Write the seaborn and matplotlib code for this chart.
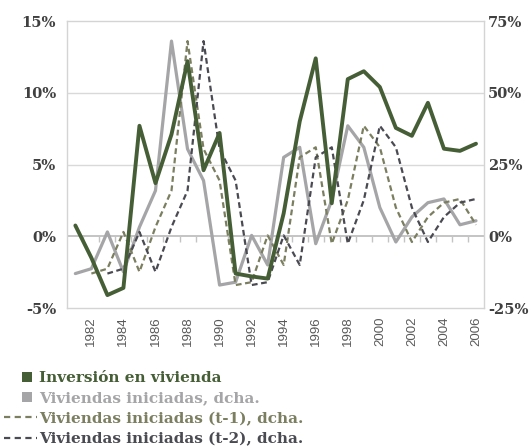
import numpy as np
import pandas as pd
import matplotlib
matplotlib.use("Agg")
import matplotlib.pyplot as plt
from matplotlib.lines import Line2D
from matplotlib.path import Path
import seaborn as sns

nan = np.nan

# Años (categorías del eje X)
years = list(range(1981, 2007))
year_labels = [str(y) if y % 2 == 0 else "" for y in years]

# Inversión en vivienda, % (eje izquierdo)
inversion = [0.75, -1.5, -4.1, -3.6, 7.7, 3.7, 7.1, 12.2, 4.6, 7.2, -2.6, -2.8, -2.95,
             1.6, 8.0, 12.4, 2.3, 10.95, 11.5, 10.4, 7.55, 7.0, 9.3, 6.1, 5.95, 6.45]

# Viviendas iniciadas, % (eje derecho)
viviendas = [-13, -11.3, 1.5, -12.4, 3.2, 15.9, 68, 30.4, 19.4, -17, -16, 0.3, -10,
             27.5, 31, -2.6, 12.6, 38.5, 31, 10, -2, 6.7, 11.7, 13, 4, 5.4]
viviendas_t1 = [nan, -13, -11.3, 1.5, -12.4, 3.2, 15.9, 68, 30.4, 19.4, -17, -16, 0.3,
                -10, 27.5, 31, -2.6, 12.6, 38.5, 31, 10, -2, 6.7, 11.7, 13, 4]
viviendas_t2 = [nan, nan, -13, -11.3, 1.5, -12.4, 3.2, 15.9, 68, 30.4, 19.4, -17, -16,
                0.3, -10, 27.5, 31, -2.6, 12.6, 38.5, 31, 10, -2, 6.7, 11.7, 13]

left_ticks = [-5, 0, 5, 10, 15]
right_ticks = [-25, 0, 25, 50, 75]

labels = ["Inversión en vivienda", "Viviendas iniciadas, dcha.",
          "Viviendas iniciadas (t-1), dcha.", "Viviendas iniciadas (t-2), dcha."]
colors = ["#465e36", "#a5a5a8", "#7c7e60", "#4a4a52"]

sns.set_style("white")
plt.rcParams["font.family"] = ["DejaVu Serif"]

df = pd.DataFrame({"pos": np.arange(len(years)), "inv": inversion, "viv": viviendas,
                   "t1": viviendas_t1, "t2": viviendas_t2})

fig = plt.figure(figsize=(5.31, 4.48), dpi=100)
ax = fig.add_axes([0.1268, 0.3125, 0.9115 - 0.1268, 0.9531 - 0.3125])
ax2 = ax.twinx()
ax.set_zorder(2)
ax2.set_zorder(1)
ax.patch.set_visible(False)

# cuadrícula y línea de cero en el eje derecho (detrás)
for v in [25, 50]:
    ax2.axhline(v, color="#d9d9d9", lw=1.0, zorder=0)
ax2.axhline(0, color="#c4c4c4", lw=1.4, zorder=0.5)
ax2.vlines(df["pos"].values[:-1] + 0.5, -2.0, 0, color="#c4c4c4", lw=1.0, zorder=0.5)

dash = (0, (2.6, 1.6))
sns.lineplot(data=df, x="pos", y="viv", ax=ax2, color=colors[1], lw=2.3)
sns.lineplot(data=df, x="pos", y="t1", ax=ax2, color=colors[2], lw=1.6, linestyle=dash)
sns.lineplot(data=df, x="pos", y="t2", ax=ax2, color=colors[3], lw=1.6, linestyle=dash)
sns.lineplot(data=df, x="pos", y="inv", ax=ax, color=colors[0], lw=2.8)

ax.set_xlim(-0.5, len(years) - 0.5)
ax.set_ylim(-5, 15)
ax2.set_ylim(-25, 75)

ax.set_yticks(left_ticks)
ax.set_yticklabels([f"{v}%" for v in left_ticks], fontweight="bold", fontsize=10.5,
                   color="#404040")
ax2.set_yticks(right_ticks)
ax2.set_yticklabels([f"{v}%" for v in right_ticks], fontweight="bold", fontsize=10.5,
                    color="#404040")
ax.set_xticks(df["pos"])
ax.set_xticklabels(year_labels, rotation=90, fontsize=9.5, color="#595959",
                   family="Liberation Sans")
ax.tick_params(axis="y", length=0, pad=8)
ax2.tick_params(axis="y", length=0, pad=3)
ax.tick_params(axis="x", length=0, pad=6)
ax.set_xlabel("")
ax.set_ylabel("")
ax2.set_ylabel("")

for s in ax.spines.values():
    s.set_visible(False)
for s in ax2.spines.values():
    s.set_color("#d4d4d4")
    s.set_linewidth(1.0)

# cuadrado desplazado a la derecha dentro del hueco de la leyenda
sq = Path([(0.05, -0.5), (1.05, -0.5), (1.05, 0.5), (0.05, 0.5), (0.05, -0.5)],
          closed=True)
handles = [
    Line2D([], [], ls="none", marker=sq, ms=16.5, color=colors[0], mew=0),
    Line2D([], [], ls="none", marker=sq, ms=16.5, color=colors[1], mew=0),
    Line2D([], [], ls="--", lw=1.6, dashes=(2.8, 2.0), color=colors[2]),
    Line2D([], [], ls="--", lw=1.6, dashes=(2.8, 2.0), color=colors[3]),
]
fig.legend(handles, labels, loc="upper left", bbox_to_anchor=(0.008, 0.171),
           frameon=False, prop={"weight": "bold", "size": 11}, labelcolor=colors,
           handlelength=2.16, handletextpad=0.13, labelspacing=0.4, borderpad=0,
           borderaxespad=0)

fig.savefig("out.png", dpi=100)
